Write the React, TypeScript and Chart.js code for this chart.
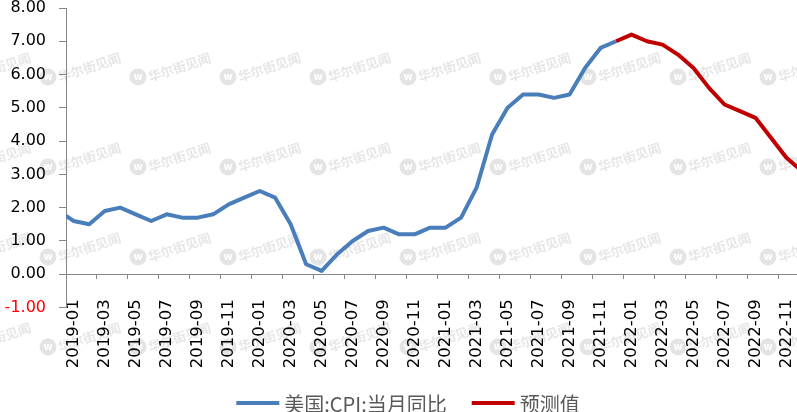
import React, { useEffect, useRef } from 'react';
import { Chart, registerables } from 'chart.js';

Chart.register(...registerables);

// Months (index = x value on the linear axis)
const months = [
  '2018-12',
  '2019-01', '2019-02', '2019-03', '2019-04', '2019-05', '2019-06', '2019-07', '2019-08', '2019-09', '2019-10', '2019-11', '2019-12',
  '2020-01', '2020-02', '2020-03', '2020-04', '2020-05', '2020-06', '2020-07', '2020-08', '2020-09', '2020-10', '2020-11', '2020-12',
  '2021-01', '2021-02', '2021-03', '2021-04', '2021-05', '2021-06', '2021-07', '2021-08', '2021-09', '2021-10', '2021-11', '2021-12',
  '2022-01', '2022-02', '2022-03', '2022-04', '2022-05', '2022-06', '2022-07', '2022-08', '2022-09', '2022-10', '2022-11', '2022-12',
];

const actualLabel = '美国:CPI:当月同比';
const forecastLabel = '预测值';

// 2018-12 .. 2021-12
const actualValues = [
  1.9,
  1.6, 1.5, 1.9, 2.0, 1.8, 1.6, 1.8, 1.7, 1.7, 1.8, 2.1, 2.3,
  2.5, 2.3, 1.5, 0.3, 0.1, 0.6, 1.0, 1.3, 1.4, 1.2, 1.2, 1.4,
  1.4, 1.7, 2.6, 4.2, 5.0, 5.4, 5.4, 5.3, 5.4, 6.2, 6.8, 7.0,
];

// 2021-12 .. 2022-12
const forecastStart = '2021-12';
const forecastValues = [7.0, 7.2, 7.0, 6.9, 6.6, 6.2, 5.6, 5.1, 4.9, 4.7, 4.1, 3.5, 3.1];

// labelled months (every second month) and y ticks
const labelMonths = [
  '2019-01', '2019-03', '2019-05', '2019-07', '2019-09', '2019-11',
  '2020-01', '2020-03', '2020-05', '2020-07', '2020-09', '2020-11',
  '2021-01', '2021-03', '2021-05', '2021-07', '2021-09', '2021-11',
  '2022-01', '2022-03', '2022-05', '2022-07', '2022-09', '2022-11',
];
const yTicks = [-1, 0, 1, 2, 3, 4, 5, 6, 7, 8];

const BLUE = '#4A7EBB';
const RED = '#C00000';
const AXIS = '#868686';
const FONT = 'DejaVu Sans';

const X_MIN = 0.5;
const X_MAX = 47.68;

const watermarkPlugin = {
  id: 'watermark',
  beforeDraw(chart: any) {
    const ctx = chart.ctx;
    ctx.save();
    for (let cy = -13; cy <= 440; cy += 90) {
      for (let cx = -42; cx <= 800; cx += 90) {
        ctx.beginPath();
        ctx.arc(cx, cy, 8.5, 0, Math.PI * 2);
        ctx.fillStyle = '#e4e4e4';
        ctx.fill();
        ctx.fillStyle = '#ffffff';
        ctx.font = 'bold 10px "DejaVu Sans"';
        ctx.textAlign = 'center';
        ctx.textBaseline = 'middle';
        ctx.fillText('w', cx, cy + 0.5);
        ctx.save();
        ctx.translate(cx + 12, cy + 5);
        ctx.rotate(-18 * Math.PI / 180);
        ctx.fillStyle = '#e6e6e6';
        ctx.font = 'bold 13px "Noto Sans CJK SC"';
        ctx.textAlign = 'left';
        ctx.textBaseline = 'alphabetic';
        ctx.fillText('华尔街见闻', 0, 0);
        ctx.restore();
      }
    }
    ctx.restore();
  },
};

const legendPlugin = {
  id: 'customLegend',
  afterDraw(chart: any) {
    const ctx = chart.ctx;
    ctx.save();
    ctx.font = '20px "Noto Sans CJK SC"';
    ctx.textBaseline = 'middle';
    ctx.textAlign = 'left';
    const items = chart.data.datasets.map((d: any) => ({ label: d.label, color: d.borderColor }));
    const lineW = 43;
    const gapText = 5;
    const gapItem = 25;
    const widths = items.map((it: any) => lineW + gapText + ctx.measureText(it.label).width);
    const total = widths.reduce((a: number, b: number) => a + b, 0) + gapItem * (items.length - 1);
    let x = 408 - total / 2;
    const y = 403;
    items.forEach((it: any, i: number) => {
      ctx.fillStyle = it.color;
      ctx.fillRect(x, y - 2, lineW, 4);
      ctx.fillStyle = '#595959';
      ctx.fillText(it.label, x + lineW + gapText, y + 1);
      x += widths[i] + gapItem;
    });
    ctx.restore();
  },
};

export default function App() {
  const ref = useRef<HTMLCanvasElement | null>(null);

  useEffect(() => {
    if (!ref.current) return;
    const fIdx = months.indexOf(forecastStart);
    const labelIdx = labelMonths.map((m) => months.indexOf(m));
    const boundaries = labelIdx.map((v) => v - 0.5);

    const chart = new Chart(ref.current, {
      type: 'line',
      data: {
        datasets: [
          {
            label: actualLabel,
            data: actualValues.map((v, i) => ({ x: i, y: v })),
            borderColor: BLUE,
            backgroundColor: BLUE,
            borderWidth: 4,
            pointRadius: 0,
            tension: 0,
            clip: 0,
            borderJoinStyle: 'round',
          },
          {
            label: forecastLabel,
            data: forecastValues.map((v, i) => ({ x: i + fIdx, y: v })),
            borderColor: RED,
            backgroundColor: RED,
            borderWidth: 4,
            pointRadius: 0,
            tension: 0,
            clip: 0,
            borderJoinStyle: 'round',
          },
        ],
      },
      options: {
        animation: false,
        responsive: true,
        maintainAspectRatio: false,
        layout: { padding: { left: 0, right: 0, top: 8, bottom: 104.5 } },
        plugins: {
          legend: { display: false },
          tooltip: { enabled: false },
        },
        scales: {
          x: {
            type: 'linear',
            min: X_MIN,
            max: X_MAX,
            position: { y: 0 } as any,
            afterBuildTicks: (s: any) => {
              s.ticks = labelIdx.map((v) => ({ value: v }));
            },
            afterFit: (s: any) => {
              s.paddingLeft = 0;
              s.paddingRight = 0;
            },
            ticks: {
              autoSkip: false,
              minRotation: 90,
              maxRotation: 90,
              padding: 20,
              color: '#000000',
              font: { family: FONT, size: 16.5 },
              callback: (v: any) => months[v] ?? '',
            },
            grid: { display: true, drawOnChartArea: false, drawTicks: true, tickLength: 5, tickColor: 'rgba(0,0,0,0)' },
            border: { display: true, color: AXIS, width: 1 },
          },
          x2: {
            type: 'linear',
            axis: 'x',
            min: X_MIN,
            max: X_MAX,
            position: { y: 0 } as any,
            afterBuildTicks: (s: any) => {
              s.ticks = boundaries.map((v) => ({ value: v }));
            },
            afterFit: (s: any) => {
              s.paddingLeft = 0;
              s.paddingRight = 0;
            },
            ticks: { display: false },
            grid: { display: true, drawOnChartArea: false, drawTicks: true, tickLength: 5, tickColor: AXIS, tickWidth: 1 },
            border: { display: false },
          } as any,
          y: {
            type: 'linear',
            min: -1,
            max: 8,
            afterBuildTicks: (s: any) => {
              s.ticks = yTicks.map((v) => ({ value: v }));
            },
            afterFit: (s: any) => {
              s.width = 66;
              s.paddingTop = 0;
              s.paddingBottom = 0;
            },
            ticks: {
              padding: 13,
              font: { family: FONT, size: 16 },
              color: (c: any) => (c.tick && c.tick.value < 0 ? '#FF0000' : '#000000'),
              callback: (v: any) => Number(v).toFixed(2),
            },
            grid: { display: true, drawOnChartArea: false, drawTicks: true, tickLength: 7, tickColor: AXIS },
            border: { display: true, color: AXIS, width: 1 },
          },
        },
      },
      plugins: [watermarkPlugin, legendPlugin],
    } as any);
    return () => chart.destroy();
  }, []);

  return (
    <div style={{ position: 'absolute', left: 0, top: 0, width: 797, height: 412, background: '#fff' }}>
      <canvas ref={ref} />
    </div>
  );
}
